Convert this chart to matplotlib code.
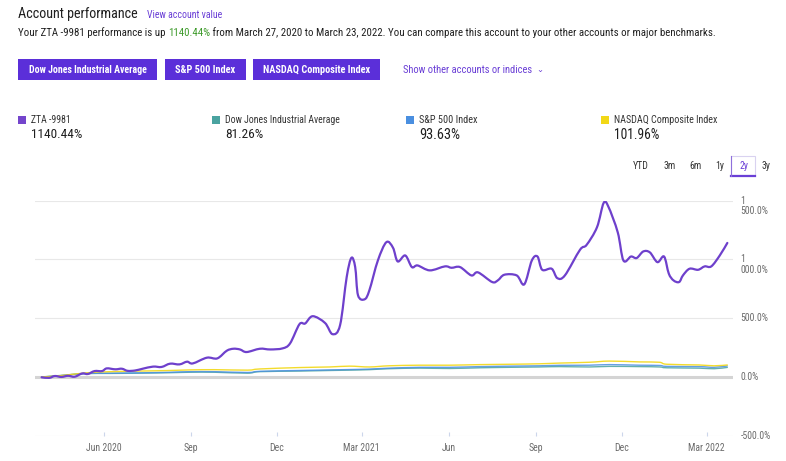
import matplotlib
matplotlib.use("Agg")
import matplotlib.pyplot as plt
import matplotlib.dates as mdates
from matplotlib.patches import Rectangle, PathPatch
from matplotlib.path import Path
from matplotlib.lines import Line2D
from matplotlib import font_manager
import matplotlib.transforms as mtransforms
import numpy as np
import pandas as pd

# ---------------- data ----------------
zta_dates = ["2020-03-27","2020-04-04","2020-04-10","2020-04-17","2020-04-24","2020-05-01","2020-05-09","2020-05-15",
             "2020-05-22","2020-05-30","2020-06-04","2020-06-13","2020-06-20","2020-06-26","2020-07-04","2020-07-12",
             "2020-07-23","2020-08-01","2020-08-10","2020-08-20","2020-08-28","2020-09-03","2020-09-18","2020-09-29",
             "2020-10-09","2020-10-16","2020-10-23","2020-10-30","2020-11-13","2020-11-24","2020-12-07","2020-12-15",
             "2020-12-25","2020-12-31","2021-01-08","2021-01-21","2021-01-29","2021-02-06","2021-02-13","2021-02-18",
             "2021-02-22","2021-02-25","2021-03-04","2021-03-09","2021-03-18","2021-03-27","2021-04-03","2021-04-08",
             "2021-04-16","2021-04-23","2021-04-29","2021-05-12","2021-05-28","2021-06-04","2021-06-13","2021-06-25",
             "2021-07-02","2021-07-17","2021-07-23","2021-07-30","2021-08-12","2021-08-20","2021-08-28","2021-09-03",
             "2021-09-08","2021-09-18","2021-09-24","2021-10-02","2021-10-18","2021-10-25","2021-11-05","2021-11-12",
             "2021-11-17","2021-11-27","2021-12-03","2021-12-11","2021-12-17","2021-12-24","2021-12-31","2022-01-08",
             "2022-01-15","2022-01-20","2022-01-25","2022-01-31","2022-02-04","2022-02-11","2022-02-20","2022-02-27",
             "2022-03-06","2022-03-15","2022-03-23"]
zta_values = [-3, -8, 8, 0, 10, 2, 30, 25, 50, 50, 73, 65, 70, 52, 55, 70, 88, 85, 113, 107, 130, 115, 164, 158,
              223, 240, 234, 212, 240, 234, 243, 285, 449, 455, 517, 460, 364, 441, 850, 1014, 935, 695, 661, 737,
              991, 1147, 1100, 983, 1034, 935, 949, 907, 941, 929, 935, 864, 890, 808, 822, 870, 864, 788, 991, 1025,
              912, 921, 841, 864, 1082, 1124, 1274, 1480, 1450, 1230, 991, 1025, 1012, 1068, 1060, 977, 1025, 880,
              822, 808, 864, 921, 912, 941, 941, 1034, 1140.44]

bench_dates = ["2020-03-27","2020-04-15","2020-05-12","2020-06-07","2020-07-09","2020-08-10","2020-08-31","2020-09-26",
               "2020-10-31","2020-11-13","2020-12-25","2021-01-26","2021-02-16","2021-03-09","2021-03-30","2021-05-01",
               "2021-06-02","2021-07-04","2021-08-05","2021-09-05","2021-09-26","2021-10-28","2021-11-18","2021-12-20",
               "2022-01-10","2022-01-18","2022-02-21","2022-03-09","2022-03-23"]
nasdaq_values = [0, 10, 34, 45, 50, 55, 60, 62, 58, 68, 80, 85, 92, 85, 95, 100, 100, 105, 108, 112, 118, 125, 135,
                 128, 125, 108, 102, 95, 101.96]
dow_values = [0, 12, 28, 30, 32, 36, 40, 40, 32, 45, 50, 55, 58, 62, 70, 75, 72, 78, 82, 85, 88, 85, 90, 88, 85,
              78, 75, 70, 81.26]
sp_values = [0, 10, 30, 32, 35, 40, 45, 45, 38, 48, 55, 60, 63, 67, 75, 82, 82, 88, 92, 95, 99, 100, 105, 100, 98,
             90, 88, 82, 93.63]

series_names = ["ZTA -9981", "Dow Jones Industrial Average", "S&P 500 Index", "NASDAQ Composite Index"]
series_totals = ["1140.44%", "81.26%", "93.63%", "101.96%"]
y_ticks = [-500, 0, 500, 1000, 1500]
y_tick_labels = ["-500.0%", "0.0%", "500.0%", "1\n000.0%", "1\n500.0%"]
x_ticks = ["2020-06-01","2020-09-01","2020-12-01","2021-03-01","2021-06-01","2021-09-01","2021-12-01","2022-03-01"]
x_tick_labels = ["Jun 2020", "Sep", "Dec", "Mar 2021", "Jun", "Sep", "Dec", "Mar 2022"]
benchmark_buttons = ["Dow Jones Industrial Average", "S&P 500 Index", "NASDAQ Composite Index"]
periods = ["YTD", "3m", "6m", "1y", "2y", "3y"]

# ---------------- style ----------------
names = {f.name for f in font_manager.fontManager.ttflist}
main_font = next(f for f in ["Liberation Sans Narrow", "Roboto Condensed", "Roboto", "DejaVu Sans"] if f in names)
plt.rcParams["font.family"] = [main_font, "DejaVu Sans"]

PURPLE_LINE = "#6e40cc"
DOW_C = "#4aa3a0"
SP_C = "#4a8fe0"
NAS_C = "#f2d816"
BTN_C = "#5b2fd9"
LINK_C = "#6a3fd6"
DARK = "#1f1f1f"
GRAY = "#6b6b6b"

W, H = 786, 461
fig = plt.figure(figsize=(W / 100, H / 100), dpi=100)
fig.patch.set_facecolor("white")
renderer = fig.canvas.get_renderer()


def fx(x):
    return x / W


def fy(y):
    return 1 - y / H


def put(x, y, s, size=8, target_w=None, ha="left", **kw):
    t = fig.text(fx(x), fy(y), s, fontsize=size, ha=ha, va="center", **kw)
    if target_w:
        w = t.get_window_extent(renderer).width
        t.set_fontsize(size * target_w / w)
    return t


def width_of(t):
    return t.get_window_extent(renderer).width


# header
put(18, 14, "Account performance", size=10, target_w=120, color=DARK)
put(147, 15, "View account value", size=7, target_w=76, color=LINK_C)

parts = [("Your ZTA -9981 performance is up ", DARK), ("1140.44%", "#3d9a2a"),
         (" from March 27, 2020 to March 23, 2022. You can compare this account to your other accounts or major benchmarks.", DARK)]
probe = put(18, 33, "".join(p for p, _ in parts), size=7.5, target_w=691, color=DARK)
sent_size = probe.get_fontsize()
probe.remove()
xcur = 18
for s, c in parts:
    t = put(xcur, 33, s, size=sent_size, color=c)
    xcur += width_of(t)

# benchmark buttons
btn_boxes = [(18, 157), (165, 246), (253, 380)]
btn_text_w = [118, 60, 107]
for (x0, x1), label, tw in zip(btn_boxes, benchmark_buttons, btn_text_w):
    fig.patches.append(Rectangle((fx(x0), fy(80)), fx(x1) - fx(x0), (80 - 59) / H,
                                 transform=fig.transFigure, facecolor=BTN_C, edgecolor="none"))
    put((x0 + x1) / 2, 70, label, size=7, target_w=tw, ha="center", color="white", fontweight="bold")
t = put(403, 70, "Show other accounts or indices", size=7, target_w=131, color=LINK_C)
put(403 + width_of(t) + 4, 70, "⌄", size=6, color=LINK_C, family=["DejaVu Sans"])

# legend row
leg_x = [18, 212, 406, 601]
leg_colors = ["#7445cc", DOW_C, SP_C, NAS_C]
leg_name_w = [40, 116, 59, 104]
leg_val_w = [51, 38, 41, 45]
for x0, c, name, val, nw, vw in zip(leg_x, leg_colors, series_names, series_totals, leg_name_w, leg_val_w):
    fig.patches.append(Rectangle((fx(x0), fy(124)), 8 / W, 8 / H, transform=fig.transFigure,
                                 facecolor=c, edgecolor="none"))
    put(x0 + 13, 120, name, size=7, target_w=nw, color="#333333")
    put(x0 + 13, 135, val, size=10, target_w=vw, color=DARK)

# period selector (one common size, fitted on "YTD")
period_x = [641, 669.5, 695.5, 720, 743.5, 766]
probe = put(0, -50, "YTD", size=7, target_w=16)
period_size = probe.get_fontsize()
probe.remove()
for p, x in zip(periods, period_x):
    put(x, 165.5, p, size=period_size, ha="center", color=LINK_C if p == "2y" else "#333333")
fig.patches.append(Rectangle((fx(731), fy(175.5)), 24 / W, 19.5 / H, transform=fig.transFigure,
                             facecolor="none", edgecolor="#d9d2f0", linewidth=0.8))
fig.lines.append(Line2D([fx(731), fx(755)], [fy(176), fy(176)], transform=fig.transFigure,
                        color=LINK_C, linewidth=1.6))
fig.lines.append(Line2D([fx(731), fx(731)], [fy(176), fy(156)], transform=fig.transFigure,
                        color="#8f70dc", linewidth=0.8))

# ---------------- chart ----------------
ax = fig.add_axes([fx(35), fy(435.7), fx(733) - fx(35), (435.7 - 200.7) / H])
ax.set_facecolor("white")
zd = pd.to_datetime(zta_dates)
bd = pd.to_datetime(bench_dates)

for v in y_ticks:
    if v == 0:
        ax.axhline(v, color="#d4d4d4", linewidth=2.2, zorder=1)
    else:
        ax.axhline(v, color="#e8e8e8", linewidth=0.8, zorder=0)


def smooth_path(xs, ys):
    """Catmull-Rom curve through the data points, expressed as cubic Bezier segments."""
    xs = np.asarray(xs, float)
    ys = np.asarray(ys, float)
    pts = np.column_stack([xs, ys])
    verts = [pts[0]]
    codes = [Path.MOVETO]
    n = len(pts)
    for i in range(n - 1):
        p0 = pts[max(i - 1, 0)]
        p1 = pts[i]
        p2 = pts[i + 1]
        p3 = pts[min(i + 2, n - 1)]
        c1 = p1 + (p2 - p0) / 6.0
        c2 = p2 - (p3 - p1) / 6.0
        verts += [c1, c2, p2]
        codes += [Path.CURVE4] * 3
    return Path(verts, codes)


def draw_series(dates, values, color, lw, z, alpha=1.0):
    xs = mdates.date2num(dates)
    ax.add_patch(PathPatch(smooth_path(xs, values), facecolor="none", edgecolor=color,
                           linewidth=lw, zorder=z, alpha=alpha, joinstyle="round", capstyle="round"))


draw_series(bd, dow_values, DOW_C, 1.0, 2, 0.85)
draw_series(bd, sp_values, SP_C, 1.0, 3, 0.85)
draw_series(bd, nasdaq_values, NAS_C, 1.0, 4, 0.9)
draw_series(zd, zta_values, PURPLE_LINE, 1.6, 5)

ax.xaxis_date()
ax.set_xlim(pd.Timestamp("2020-03-20"), pd.Timestamp("2022-03-29"))
ax.set_ylim(-500, 1500)
for s in ax.spines.values():
    s.set_visible(False)
ax.set_yticks([])
ax.set_xticks(pd.to_datetime(x_ticks))
ax.set_xticklabels(x_tick_labels)
ax.tick_params(axis="x", direction="in", length=3, width=0.8, color="#ccd6eb",
               labelsize=7, labelcolor=GRAY, pad=5)

ytrans = ax.get_yaxis_transform()
for v, lab in zip(y_ticks, y_tick_labels):
    if "\n" in lab:
        off = mtransforms.ScaledTranslation(0, -5 / 100, fig.dpi_scale_trans)
        ax.text(1.011, v, lab, transform=ytrans + off, ha="left", va="center",
                fontsize=7, color=GRAY, linespacing=1.05)
    else:
        ax.text(1.011, v, lab, transform=ytrans, ha="left", va="center", fontsize=7, color=GRAY)

fig.savefig("out.png", dpi=100, facecolor="white")
